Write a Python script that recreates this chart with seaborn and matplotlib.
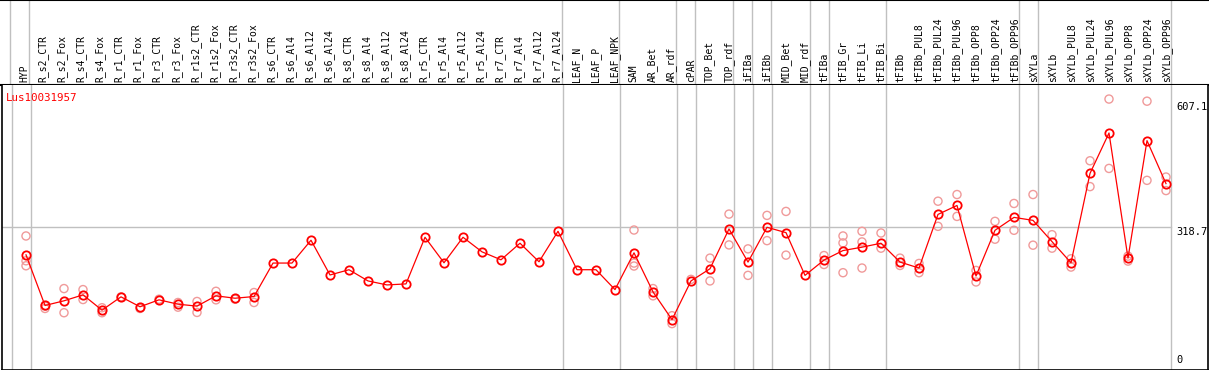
import matplotlib
matplotlib.use("Agg")
import matplotlib.pyplot as plt
import seaborn as sns
import pandas as pd
import numpy as np

gene = "Lus10031957"

samples = [
    "HYP", "R_s2_CTR", "R_s2_Fox", "R_s4_CTR", "R_s4_Fox", "R_r1_CTR", "R_r1_Fox",
    "R_r3_CTR", "R_r3_Fox", "R_r1s2_CTR", "R_r1s2_Fox", "R_r3s2_CTR", "R_r3s2_Fox",
    "R_s6_CTR", "R_s6_Al4", "R_s6_Al12", "R_s6_Al24", "R_s8_CTR", "R_s8_Al4",
    "R_s8_Al12", "R_s8_Al24", "R_r5_CTR", "R_r5_Al4", "R_r5_Al12", "R_r5_Al24",
    "R_r7_CTR", "R_r7_Al4", "R_r7_Al12", "R_r7_Al24", "LEAF_N", "LEAF_P", "LEAF_NPK",
    "SAM", "AR_Bet", "AR_rdf", "cPAR", "TOP_Bet", "TOP_rdf", "iFIBa", "iFIBb",
    "MID_Bet", "MID_rdf", "tFIBa", "tFIB_Gr", "tFIB_Li", "tFIB_Bi", "tFIBb",
    "tFIBb_PUL8", "tFIBb_PUL24", "tFIBb_PUL96", "tFIBb_OPP8", "tFIBb_OPP24",
    "tFIBb_OPP96", "sXYLa", "sXYLb", "sXYLb_PUL8", "sXYLb_PUL24", "sXYLb_PUL96",
    "sXYLb_OPP8", "sXYLb_OPP24", "sXYLb_OPP96",
]

mean_expr = [
    256.8, 142.9, 153.4, 166.8, 132.4, 162.3, 140.0, 155.6, 145.8, 141.4, 164.6,
    159.2, 163.0, 238.3, 238.3, 289.6, 211.5, 223.3, 198.1, 189.1, 191.4, 296.3,
    238.9, 296.3, 263.5, 245.6, 282.9, 241.2, 309.7, 223.3, 223.3, 178.6, 261.3,
    173.5, 111.0, 198.1, 225.5, 314.9, 240.5, 318.7, 306.7, 210.6, 245.0, 266.4,
    274.0, 282.9, 240.5, 227.1, 347.7, 367.8, 209.2, 312.0, 341.0, 334.3, 286.5,
    238.9, 439.9, 530.8, 249.4, 513.6, 416.9,
]

# individual replicates (light circles)
replicates = [
    [299.2, 243.4, 232.2], [141.4, 136.2], [180.9, 126.6], [178.6, 156.3],
    [137.8, 126.6], [162.3], [136.2], [157.0], [149.6, 139.1], [151.9, 127.3],
    [174.8, 155.6], [157.0], [172.0, 149.6], [], [], [], [], [], [], [], [], [],
    [], [], [], [], [], [], [], [], [], [], [312.6, 238.3, 231.6], [180.9, 164.6],
    [119.9, 102.1], [201.6], [249.4, 198.1], [348.4, 279.1], [270.2, 210.6],
    [345.5, 288.7], [354.4, 256.1], [], [255.2, 235.1], [299.2, 283.6, 216.6],
    [309.7, 285.8, 227.1], [305.9, 271.8], [249.4, 232.9], [237.4, 216.6],
    [377.4, 320.9], [392.4, 343.2], [221.7, 195.8], [332.1, 291.9], [372.3, 312.0],
    [392.4, 278.5], [302.1, 271.8], [247.9, 229.3], [468.3, 410.2], [607.1, 451.1],
    [253.9, 242.7], [602.3, 424.3], [431.7, 401.3],
]

# tissue group separators (after these samples)
group_ends = ["HYP", "R_r7_Al24", "LEAF_NPK", "AR_rdf", "cPAR", "TOP_rdf", "iFIBa",
              "iFIBb", "MID_rdf", "tFIBa", "tFIB_Bi", "tFIBb_OPP96", "sXYLa",
              "sXYLb_OPP96"]

y_ticks = [0, 318.7, 607.1]

mean_df = pd.DataFrame({"pos": np.arange(len(samples)), "value": mean_expr})
rep_df = pd.DataFrame(
    [(i, v) for i, reps in enumerate(replicates) for v in reps],
    columns=["pos", "value"],
)

W, H = 1209, 370
fig = plt.figure(figsize=(W / 100, H / 100), dpi=100)
head_h = 85
ax_head = fig.add_axes([0, 1 - head_h / H, 1, head_h / H])
ax = fig.add_axes([2 / W, 0, 1206 / W, (H - head_h) / H])

xlim = ((2 - 26) / 19, (1208 - 26) / 19)
ylim = (-2.2, 638.7)

grey = "#c0c0c0"
sep_x = [-0.76] + [samples.index(s) + 0.24 for s in group_ends]
for a in (ax, ax_head):
    for x in sep_x:
        a.axvline(x, color=grey, lw=1, zorder=0)

ax.axhline(y_ticks[1], xmin=0, xmax=(sep_x[-1] - xlim[0]) / (xlim[1] - xlim[0]),
           color=grey, lw=1, zorder=0)

sns.scatterplot(data=rep_df, x="pos", y="value", ax=ax, marker="o", s=34,
                facecolor="none", edgecolor="#f09a9a", linewidth=1.0, zorder=2)
sns.lineplot(data=mean_df, x="pos", y="value", ax=ax, color="red", lw=0.9,
             marker="o", markersize=6, markerfacecolor="none",
             markeredgecolor="red", markeredgewidth=1.3, zorder=3)

ax.set_xlim(xlim)
ax.set_ylim(ylim)
ax.set_xticks([])
ax.set_yticks([])
ax.set_xlabel("")
ax.set_ylabel("")
for sp in ax.spines.values():
    sp.set_color("black")
    sp.set_linewidth(1.2)
ax.spines["top"].set_visible(False)

mono = "DejaVu Sans Mono"
ax.text(0.003, 0.955, gene, transform=ax.transAxes, color="red", fontsize=7.8,
        family=mono, ha="left", va="center")

lab_x = (1176 - 26) / 19
offsets = {0: 6.7, 318.7: -3.2, 607.1: -5.6}
for t in y_ticks:
    ax.annotate(f"{t:g}", xy=(lab_x, t), xytext=(0, offsets[t]),
                textcoords="offset points", fontsize=7.5, family=mono,
                ha="left", va="center")

ax_head.set_xlim(xlim)
ax_head.set_ylim(0, 1)
ax_head.set_xticks([])
ax_head.set_yticks([])
for side in ("left", "right"):
    ax_head.spines[side].set_visible(False)
for side in ("top", "bottom"):
    ax_head.spines[side].set_color("black")
    ax_head.spines[side].set_linewidth(1.5)
for i, s in enumerate(samples):
    ax_head.text(i, 0.035, s, rotation=90, ha="center", va="bottom",
                 fontsize=7, family=mono)

fig.savefig("out.png", dpi=100)
